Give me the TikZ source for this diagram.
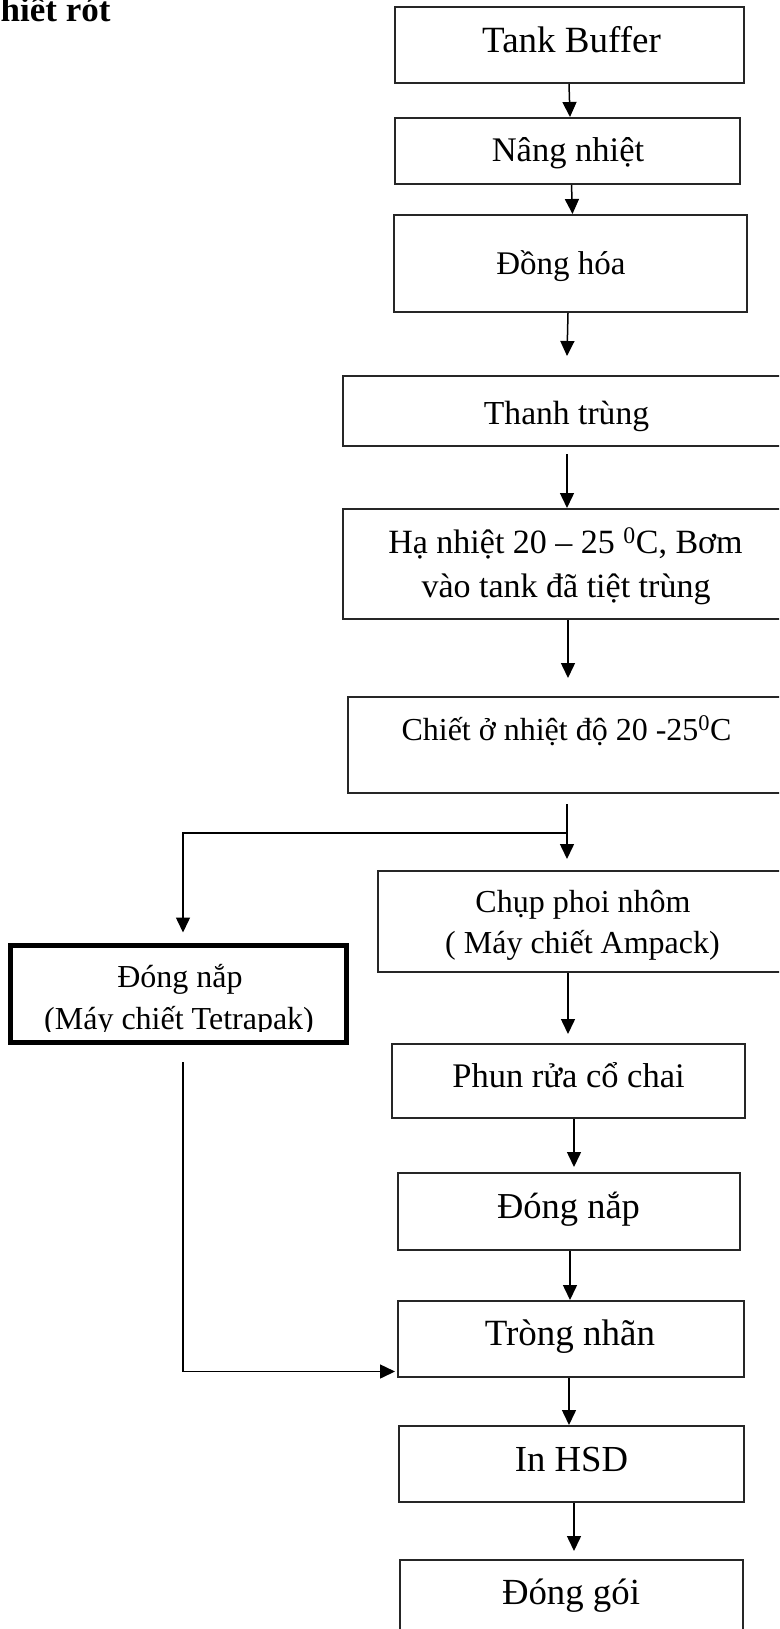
\documentclass[tikz,border=0pt]{standalone}
\usepackage{fontspec}
\setmainfont{Liberation Serif}
\usetikzlibrary{arrows.meta}

\newcommand{\fs}[1]{\fontsize{#1pt}{#1pt}\selectfont}

\begin{document}
\begin{tikzpicture}[x=1pt, y=1pt,
  stepbox/.style={draw=black!85, line width=2pt, inner sep=0pt},
  thickbox/.style={draw=black, line width=5pt, inner sep=0pt},
  lbl/.style={anchor=base, inner sep=0pt},
  flow/.style={line width=1.5pt, black},
  arr/.style={flow, -{Triangle[length=15pt, width=14pt]}}]

\useasboundingbox (0,0) rectangle (779,-1629);
\clip (0,0) rectangle (779,-1629);

% heading fragment
\node[anchor=base west, inner sep=0pt] (title) at (0.5,-22) {\fs{35}\textbf{hiết rót}};

% process boxes
\node[stepbox, minimum width=349, minimum height=76]  (tank)   at (569.5,-45)    {};
\node[stepbox, minimum width=345, minimum height=66]  (nang)   at (567.5,-151)   {};
\node[stepbox, minimum width=353, minimum height=97]  (dong)   at (570.5,-263.5) {};
\node[stepbox, minimum width=447, minimum height=70]  (thanh)  at (566.5,-411)   {};
\node[stepbox, minimum width=447, minimum height=110] (ha)     at (566.5,-564)   {};
\node[stepbox, minimum width=442, minimum height=96]  (chiet)  at (569,-745)     {};
\node[stepbox, minimum width=412, minimum height=101] (chup)   at (584,-921.5)   {};
\node[thickbox, minimum width=336, minimum height=97] (tetra)  at (178.5,-994)   {};
\node[stepbox, minimum width=353, minimum height=74]  (phun)   at (568.5,-1081)  {};
\node[stepbox, minimum width=342, minimum height=77]  (dongnap) at (569,-1211.5) {};
\node[stepbox, minimum width=346, minimum height=76]  (trong)  at (571,-1339)    {};
\node[stepbox, minimum width=345, minimum height=76]  (inhsd)  at (571.5,-1464)  {};
\node[stepbox, minimum width=343, minimum height=100] (goi)    at (571.5,-1610)  {};

% box texts
\node[lbl] (tankT)  at (571.5,-53)  {\fs{37}Tank Buffer};
\node[lbl] (nangT)  at (568,-162)   {\fs{34.5}Nâng nhiệt};
\node[lbl] (dongT)  at (561,-274)   {\fs{33}Đồng hóa};
\node[lbl] (thanhT) at (566.5,-424) {\fs{33.6}Thanh trùng};
\node[lbl] (haT1)   at (565.5,-553) {\fs{34}Hạ nhiệt 20 – 25 \textsuperscript{0}C, Bơm};
\node[lbl] (haT2)   at (566,-597)   {\fs{34}vào tank đã tiệt trùng};
\node[lbl] (chietT) at (566.5,-740) {\fs{32}Chiết ở nhiệt độ 20 -25\textsuperscript{0}C};
\node[lbl] (chupT1) at (583,-912)   {\fs{32}Chụp phoi nhôm};
\node[lbl] (chupT2) at (582.5,-953) {\fs{32}( Máy chiết Ampack)};
\node[lbl] (tetraT1) at (180,-987)  {\fs{32}Đóng nắp};
\begin{scope}
  \clip (10,-944) rectangle (347,-1031);
  \node[lbl] (tetraT2) at (179,-1029) {\fs{32}(Máy chiết Tetrapak)};
\end{scope}
\node[lbl] (phunT)  at (568.5,-1087) {\fs{34.5}Phun rửa cổ chai};
\node[lbl] (dongnapT) at (568.5,-1218) {\fs{36.5}Đóng nắp};
\node[lbl] (trongT) at (570,-1345)  {\fs{37}Tròng nhãn};
\node[lbl] (inhsdT) at (571.5,-1471) {\fs{36.7}In HSD};
\node[lbl] (goiT)   at (571,-1604)  {\fs{36.8}Đóng gói};

% connectors
\draw[arr] ([xshift=-0.5]tank.south) -- ([xshift=2.5]nang.north);
\draw[arr] ([xshift=4]nang.south) -- ([xshift=2]dong.north);
\draw[arr] ([xshift=-2.5]dong.south) -- ([xshift=0.5,yshift=19]thanh.north);
\draw[arr] ([xshift=0.5,yshift=-7]thanh.south) -- ([xshift=0.5]ha.north);
\draw[arr] ([xshift=1.5]ha.south) -- ([xshift=-1,yshift=18]chiet.north);

\coordinate (split) at (567,-833);
\draw[arr] ([xshift=-2,yshift=-10]chiet.south) -- ([xshift=-17,yshift=11]chup.north);
\draw[arr] (split) -| ([xshift=4.5,yshift=10.5]tetra.north);

\draw[arr] ([xshift=-16]chup.south) -- ([xshift=-0.5,yshift=9]phun.north);
\draw[arr] ([xshift=5.5]phun.south) -- ([xshift=5,yshift=5]dongnap.north);
\draw[arr] ([xshift=1]dongnap.south) -- ([xshift=-1]trong.north);
\draw[arr] ([xshift=4.5,yshift=-17]tetra.south) |- ([xshift=-2,yshift=-32.5]trong.west);
\draw[arr] ([xshift=-2]trong.south) -- ([xshift=-2.5]inhsd.north);
\draw[arr] ([xshift=2.5]inhsd.south) -- ([xshift=2.5,yshift=8]goi.north);

\end{tikzpicture}
\end{document}
